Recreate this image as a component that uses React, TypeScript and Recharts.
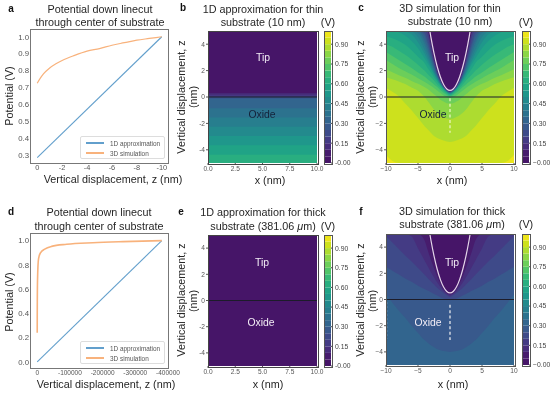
import React from 'react'
import {
  Area,
  Bar,
  BarChart,
  ComposedChart,
  Legend,
  Line,
  LineChart,
  ReferenceArea,
  ReferenceLine,
  XAxis,
  YAxis,
} from 'recharts'

// viridis, one colour per 0.05 V contour band
const bandColors = [
  '#461568', '#471c6d', '#472d7b', '#443b84', '#3e4a89', '#38598c', '#32658e', '#2c728e', '#277e8e', '#238a8d',
  '#1f978b', '#20a386', '#29ae80', '#38b977', '#51c569', '#6cce5a', '#8bd646', '#addc30', '#cde11d', '#ede51b',
]
const bandKeys = bandColors.map((_, i) => `b${i}`)
const colorbarTicks = [0, 0.15, 0.3, 0.45, 0.6, 0.75, 0.9]

// line cuts
const thin1D = [{ x: 0, y: 0.285 }, { x: -10, y: 1.0 }]
const thin3DZ = [0, -0.25, -0.5, -1, -1.5, -2, -3, -4, -5, -6, -7, -8, -9, -10]
const thin3DV = [0.725, 0.755, 0.78, 0.815, 0.84, 0.86, 0.89, 0.915, 0.93, 0.95, 0.965, 0.98, 0.99, 1.0]
const thick1D = [{ x: 0, y: 0 }, { x: -381060, y: 1.0 }]
const thick3DZ = [0, -100, -300, -1000, -4000, -10000, -23000, -44000, -90000, -170000, -263000, -381060]
const thick3DV = [0.24, 0.36, 0.5, 0.68, 0.85, 0.9, 0.93, 0.953, 0.97, 0.983, 0.992, 1.0]

// right half of each contour, the plots are symmetric about x = 0
const halfX = [0, 0.5, 1, 1.5, 2, 2.5, 3, 3.5, 4, 5, 6, 7, 8, 9, 10]
const thinCurves: number[][] = [
  [0.48, 0.58, 0.88, 1.4, 2.15, 3.1, 4.4, 5, 5, 5, 5, 5, 5, 5, 5],
  [0.45, 0.56, 0.85, 1.35, 2.05, 2.95, 4.1, 5, 5, 5, 5, 5, 5, 5, 5],
  [0.42, 0.54, 0.82, 1.3, 1.95, 2.8, 3.85, 4.95, 5, 5, 5, 5, 5, 5, 5],
  [0.4, 0.52, 0.8, 1.25, 1.85, 2.65, 3.6, 4.65, 5, 5, 5, 5, 5, 5, 5],
  [0.38, 0.5, 0.78, 1.2, 1.75, 2.5, 3.35, 4.2, 4.85, 5, 5, 5, 5, 5, 5],
  [0.36, 0.48, 0.75, 1.15, 1.68, 2.35, 3.1, 3.95, 4.65, 5, 5, 5, 5, 5, 5],
  [0.34, 0.46, 0.72, 1.1, 1.6, 2.2, 2.9, 3.65, 4.3, 5, 5, 5, 5, 5, 5],
  [0.32, 0.44, 0.7, 1.05, 1.52, 2.05, 2.7, 3.35, 4, 4.85, 5, 5, 5, 5, 5],
  [0.29, 0.42, 0.68, 1.0, 1.43, 1.92, 2.5, 3.05, 3.6, 4.55, 4.95, 5, 5, 5, 5],
  [0.26, 0.4, 0.66, 0.96, 1.35, 1.8, 2.3, 2.8, 3.3, 4.15, 4.75, 4.95, 5, 5, 5],
  [0.22, 0.37, 0.62, 0.92, 1.28, 1.7, 2.15, 2.55, 2.95, 3.7, 4.25, 4.65, 4.9, 5, 5],
  [0.18, 0.32, 0.55, 0.85, 1.18, 1.5, 1.85, 2.2, 2.6, 3.05, 3.55, 3.95, 4.25, 4.45, 4.6],
  [0.12, 0.25, 0.45, 0.7, 0.95, 1.25, 1.5, 1.75, 2.0, 2.45, 2.85, 3.2, 3.5, 3.8, 4.0],
  [0.05, 0.15, 0.32, 0.52, 0.75, 0.95, 1.15, 1.35, 1.55, 1.85, 2.2, 2.5, 2.8, 3.1, 3.4],
  [-0.1, -0.02, 0.12, 0.3, 0.5, 0.68, 0.85, 1.0, 1.15, 1.42, 1.7, 1.95, 2.2, 2.5, 2.8],
  [-0.5, -0.47, -0.35, -0.2, 0, 0.2, 0.42, 0.6, 0.75, 1.0, 1.22, 1.45, 1.65, 1.88, 2.1],
  [-1.65, -1.62, -1.52, -1.38, -1.2, -0.95, -0.62, -0.3, 0.02, 0.48, 0.72, 0.98, 1.18, 1.35, 1.5],
  [-3.4, -3.38, -3.3, -3.2, -3.1, -2.95, -2.7, -2.45, -2.2, -1.6, -1.0, -0.5, 0.05, 0.4, 0.7],
  [-5, -5, -5, -5, -5, -5, -5, -5, -5, -5, -5, -5, -5, -4.85, -4.4],
]
const thickCurves: number[][] = [
  [0.47, 0.6, 0.92, 1.45, 2.15, 3, 4, 5, 5, 5, 5, 5, 5, 5, 5],
  [0.4, 0.5, 0.78, 1.2, 1.75, 2.4, 3.05, 3.8, 4.55, 5, 5, 5, 5, 5, 5],
  [0.3, 0.42, 0.65, 0.95, 1.3, 1.7, 2.1, 2.55, 3, 3.9, 4.8, 5, 5, 5, 5],
  [0.2, 0.33, 0.5, 0.68, 0.9, 1.15, 1.4, 1.65, 1.9, 2.4, 2.9, 3.35, 3.85, 4.35, 4.85],
  [-0.05, 0.02, 0.08, 0.18, 0.3, 0.42, 0.55, 0.68, 0.8, 1.05, 1.35, 1.6, 1.9, 2.2, 2.5],
  [-4, -3.97, -3.93, -3.87, -3.8, -3.65, -3.5, -3.3, -3.1, -2.55, -2, -1.4, -0.85, -0.25, 0.4],
]
const tipX = [0, 0.5, 1, 1.5, 2, 2.5, 3, 3.15]
const tipZ = [0.5, 0.61, 0.95, 1.52, 2.31, 3.33, 4.58, 5]

// flat bands of the 1D solution: top edge of each band and its colour index
const thinBandTop = [5, 0.28, 0.14, 0, -0.14, -0.85, -1.55, -2.25, -2.96, -3.66, -4.37]
const thinBandIndex = [0, 2, 3, 5, 6, 7, 8, 9, 10, 11, 12]
const thickBandTop = [5]
const thickBandIndex = [0]

const zTicks = [-4, -2, 0, 2, 4]
const wideTicks = [-10, -5, 0, 5, 10]
const narrowTicks = [0, 2.5, 5, 7.5, 10]

const toPoints = (xs: number[], ys: number[]) => xs.map((x, i) => ({ x, y: ys[i] }))
const mirrored = (xs: number[]) => [...xs.slice(1).reverse().map((x) => -x), ...xs]
const mirroredTip = () => toPoints(mirrored(tipX), [...tipZ.slice(1).reverse(), ...tipZ])

function contourRows(curves: number[][]) {
  const xs = mirrored(halfX)
  return xs.map((x) => {
    const idx = halfX.indexOf(Math.abs(x))
    const row: Record<string, number | number[]> = { x }
    curves.forEach((c, i) => {
      row[`c${i}`] = [c[idx], 5]
    })
    return row
  })
}

const PAD_L = 40
const PAD_R = 22
const PAD_T = 4
const PAD_B = 20

const tickGray = '#555'
const titleColor = '#262626'
const sans = '"Liberation Sans", Arial, sans-serif'

type Frame = { l: number; t: number; w: number; h: number }

function Txt({ x, y, size = 10.8, color = titleColor, weight, rotate, children }: any) {
  return (
    <div
      style={{
        position: 'absolute',
        left: x,
        top: y,
        fontSize: size,
        fontWeight: weight,
        color,
        lineHeight: 1,
        whiteSpace: 'nowrap',
        transform: `translate(-50%,-50%)${rotate ? ` rotate(${rotate}deg)` : ''}`,
      }}
    >
      {children}
    </div>
  )
}

function Border({ f, color, width }: { f: Frame; color: string; width: number }) {
  return (
    <div
      style={{
        position: 'absolute',
        left: f.l - width / 2,
        top: f.t - width / 2,
        width: f.w,
        height: f.h,
        border: `${width}px solid ${color}`,
        pointerEvents: 'none',
      }}
    />
  )
}

function Colorbar({ f, minus }: { f: Frame; minus: string }) {
  const row: Record<string, number | string> = { name: 'V' }
  bandKeys.forEach((k) => {
    row[k] = 0.05
  })
  return (
    <div style={{ position: 'absolute', left: f.l, top: f.t - PAD_T }}>
      <BarChart
        width={f.w + 32}
        height={f.h + PAD_T + 4}
        data={[row]}
        margin={{ top: PAD_T, right: 2, bottom: 4, left: 0 }}
        barCategoryGap={0}
      >
        <XAxis dataKey="name" hide />
        <YAxis
          orientation="right"
          width={30}
          type="number"
          domain={[0, 1]}
          ticks={colorbarTicks}
          interval={0}
          axisLine={false}
          tickSize={2}
          tickMargin={2}
          tickLine={{ stroke: '#444' }}
          tick={{ fontSize: 6.8, fill: '#444' }}
          tickFormatter={(v: number) => (v === 0 ? `${minus}0.00` : v.toFixed(2))}
        />
        {bandKeys.map((k, i) => (
          <Bar key={k} dataKey={k} stackId="cb" fill={bandColors[i]} isAnimationActive={false} />
        ))}
      </BarChart>
    </div>
  )
}

function FieldPlot({ f, xDomain, xTicks, minus, children, rows, xDigits }: any) {
  const fmt = (v: number) => {
    const s = xDigits ? v.toFixed(xDigits) : String(Math.abs(v))
    return v < 0 ? `${minus}${s}` : s
  }
  return (
    <div style={{ position: 'absolute', left: f.l - PAD_L, top: f.t - PAD_T }}>
      <ComposedChart
        width={f.w + PAD_L + PAD_R}
        height={f.h + PAD_T + PAD_B}
        data={rows}
        margin={{ top: PAD_T, right: PAD_R, bottom: 0, left: 0 }}
      >
        <XAxis
          dataKey="x"
          type="number"
          domain={xDomain}
          ticks={xTicks}
          interval={0}
          height={PAD_B}
          axisLine={false}
          tickSize={2}
          tickMargin={1}
          tickLine={{ stroke: tickGray }}
          tick={{ fontSize: 6.6, fill: tickGray }}
          tickFormatter={fmt}
        />
        <YAxis
          type="number"
          domain={[-5, 5]}
          ticks={zTicks}
          interval={0}
          allowDataOverflow
          width={PAD_L}
          axisLine={false}
          tickSize={2}
          tickMargin={1}
          tickLine={{ stroke: tickGray }}
          tick={{ fontSize: 6.6, fill: tickGray }}
          tickFormatter={(v: number) => (v < 0 ? `${minus}${Math.abs(v)}` : String(v))}
        />
        {children}
      </ComposedChart>
    </div>
  )
}

function contourMarks(curves: number[][], backIndex: number) {
  const order = curves.map((_, i) => i).reverse()
  return [
    <ReferenceArea key="bg" x1={-10} x2={10} y1={-5} y2={5} fill={bandColors[backIndex]} fillOpacity={1} stroke="none" />,
    ...order.map((i) => (
      <Area
        key={`c${i}`}
        dataKey={`c${i}`}
        type="monotone"
        fill={bandColors[i]}
        fillOpacity={1}
        stroke="none"
        dot={false}
        activeDot={false}
        isAnimationActive={false}
      />
    )),
    <Line
      key="tip"
      data={mirroredTip()}
      dataKey="y"
      type="monotone"
      stroke="#e4d6ea"
      strokeWidth={1.2}
      dot={false}
      activeDot={false}
      isAnimationActive={false}
    />,
    <ReferenceLine key="surface" y={0} stroke="#1c1c2a" strokeWidth={1.1} />,
  ]
}

function bandMarks(tops: number[], index: number[]) {
  // painted top down, each band runs to the bottom and the next one covers it
  return [
    ...tops.map((t, i) => (
      <ReferenceArea
        key={`band${i}`}
        x1={0}
        x2={10}
        y1={-5}
        y2={t}
        fill={bandColors[index[i]]}
        fillOpacity={1}
        stroke="none"
      />
    )),
    <ReferenceLine key="surface" y={0} stroke="#1c1c2a" strokeWidth={1.1} />,
  ]
}

function LineLegend({ payload }: any) {
  return (
    <div
      style={{
        width: 85,
        height: 23,
        boxSizing: 'border-box',
        background: '#fff',
        border: '1px solid #ddd',
        borderRadius: 2,
        padding: '1px 0 0 5px',
      }}
    >
      {(payload || []).map((p: any) => (
        <div key={p.value} style={{ display: 'flex', alignItems: 'center', height: 10 }}>
          <span style={{ width: 18, height: 1.2, background: p.color, marginRight: 6 }} />
          <span style={{ fontSize: 6.4, color: '#555' }}>{p.value}</span>
        </div>
      ))}
    </div>
  )
}

function CutPlot({ f, xDomain, xTicks, yDomain, yTicks, line1D, line3D, xFont, legendTop, orangeWidth }: any) {
  return (
    <div style={{ position: 'absolute', left: f.l - PAD_L, top: f.t - PAD_T }}>
      <LineChart
        width={f.w + PAD_L + PAD_R}
        height={f.h + PAD_T + PAD_B}
        margin={{ top: PAD_T, right: PAD_R, bottom: 0, left: 0 }}
      >
        <XAxis
          dataKey="x"
          type="number"
          domain={xDomain}
          ticks={xTicks}
          interval={0}
          reversed
          allowDuplicatedCategory={false}
          height={PAD_B}
          axisLine={false}
          tickLine={false}
          tickSize={1}
          tickMargin={1}
          tick={{ fontSize: xFont, fill: tickGray }}
        />
        <YAxis
          type="number"
          domain={yDomain}
          ticks={yTicks}
          interval={0}
          width={PAD_L}
          axisLine={false}
          tickLine={false}
          tickSize={1}
          tickMargin={1}
          tick={{ fontSize: 7.8, fill: tickGray }}
          tickFormatter={(v: number) => v.toFixed(1)}
        />
        <Line
          data={line1D}
          dataKey="y"
          name="1D approximation"
          stroke="#629fcc"
          strokeWidth={1.1}
          dot={false}
          isAnimationActive={false}
        />
        <Line
          data={line3D}
          dataKey="y"
          name="3D simulation"
          type="monotone"
          stroke="#f8b27c"
          strokeWidth={orangeWidth}
          dot={false}
          isAnimationActive={false}
        />
        <Legend
          layout="horizontal"
          align="center"
          verticalAlign="middle"
          content={<LineLegend />}
          wrapperStyle={{ position: 'absolute', left: 80 - 31 + PAD_L, top: legendTop, width: 85, height: 23 }}
        />
      </LineChart>
    </div>
  )
}

const frameA = { l: 31, t: 30, w: 137, h: 133 }
const frameB = { l: 208, t: 31, w: 109, h: 132 }
const frameC = { l: 386, t: 31, w: 128, h: 132 }
const frameD = { l: 31, t: 234, w: 137, h: 134 }
const frameE = { l: 208, t: 235, w: 109, h: 131 }
const frameF = { l: 386, t: 234, w: 128, h: 131 }

export default function App() {
  const thinRows = contourRows(thinCurves)
  const thickRows = contourRows(thickCurves)
  const stubRows = [{ x: 0 }, { x: 10 }]
  return (
    <div
      style={{
        position: 'absolute',
        left: 0,
        top: 0,
        width: 555,
        height: 393,
        overflow: 'hidden',
        background: '#fff',
        fontFamily: sans,
        filter: 'blur(0.35px)',
      }}
    >
      {/* a */}
      <CutPlot
        f={frameA}
        xDomain={[-10.5, 0.5]}
        xTicks={[0, -2, -4, -6, -8, -10]}
        yDomain={[0.253, 1.04]}
        yTicks={[0.3, 0.4, 0.5, 0.6, 0.7, 0.8, 0.9, 1.0]}
        line1D={thin1D}
        line3D={toPoints(thin3DZ, thin3DV)}
        xFont={7.4}
        legendTop={136 - 30 + PAD_T}
        orangeWidth={1.2}
      />
      <Border f={frameA} color="#777" width={1.6} />
      <Txt x={11} y={9} size={10} weight={700} color="#111">a</Txt>
      <Txt x={100} y={9}>Potential down linecut</Txt>
      <Txt x={100} y={22}>through center of substrate</Txt>
      <Txt x={9} y={96} rotate={-90}>Potential (V)</Txt>
      <Txt x={113} y={178.5}>Vertical displacement, z (nm)</Txt>

      {/* b */}
      <FieldPlot f={frameB} xDomain={[0, 10]} xTicks={narrowTicks} minus="-" rows={stubRows} xDigits={1}>
        {bandMarks(thinBandTop, thinBandIndex)}
      </FieldPlot>
      <Border f={frameB} color="#444" width={1} />
      <Colorbar f={{ l: 324, t: 31, w: 7, h: 132 }} minus="-" />
      <Border f={{ l: 324, t: 31, w: 7, h: 132 }} color="#555" width={1} />
      <Txt x={183} y={8} size={10} weight={700} color="#111">b</Txt>
      <Txt x={263} y={9}>1D approximation for thin</Txt>
      <Txt x={263} y={22}>substrate (10 nm)</Txt>
      <Txt x={328} y={22}>(V)</Txt>
      <Txt x={181} y={97} rotate={-90}>Vertical displacement, z</Txt>
      <Txt x={193} y={97} rotate={-90}>(nm)</Txt>
      <Txt x={270} y={180}>x (nm)</Txt>
      <Txt x={263} y={58} size={10.4} color="#f2ecf5">Tip</Txt>
      <Txt x={262} y={115} size={10.4} color="#14233a">Oxide</Txt>

      {/* c */}
      <FieldPlot f={frameC} xDomain={[-10, 10]} xTicks={wideTicks} minus={'\u2212'} rows={thinRows}>
        {contourMarks(thinCurves, 19)}
        <ReferenceLine
          segment={[{ x: 0, y: -0.1 }, { x: 0, y: -2.7 }]}
          stroke="#eef6c8"
          strokeWidth={1.2}
          strokeDasharray="3 2.4"
        />
      </FieldPlot>
      <Border f={frameC} color="#555" width={1} />
      <Colorbar f={{ l: 522, t: 31, w: 7, h: 132 }} minus={'\u2212'} />
      <Border f={{ l: 522, t: 31, w: 7, h: 132 }} color="#555" width={1} />
      <Txt x={361} y={8} size={10} weight={700} color="#111">c</Txt>
      <Txt x={450} y={8}>3D simulation for thin</Txt>
      <Txt x={450} y={21}>substrate (10 nm)</Txt>
      <Txt x={526} y={22}>(V)</Txt>
      <Txt x={360} y={97} rotate={-90}>Vertical displacement, z</Txt>
      <Txt x={372} y={97} rotate={-90}>(nm)</Txt>
      <Txt x={452} y={180}>x (nm)</Txt>
      <Txt x={452} y={58} size={10.4} color="#f2ecf5">Tip</Txt>
      <Txt x={433} y={115} size={10.4} color="#14233a">Oxide</Txt>

      {/* d */}
      <CutPlot
        f={frameD}
        xDomain={[-400000, 19000]}
        xTicks={[0, -100000, -200000, -300000, -400000]}
        yDomain={[-0.05, 1.055]}
        yTicks={[0, 0.2, 0.4, 0.6, 0.8, 1.0]}
        line1D={thick1D}
        line3D={toPoints(thick3DZ, thick3DV)}
        xFont={6.5}
        legendTop={341 - 234 + PAD_T}
        orangeWidth={1.6}
      />
      <Border f={frameD} color="#777" width={1.6} />
      <Txt x={11} y={212} size={10} weight={700} color="#111">d</Txt>
      <Txt x={99} y={212}>Potential down linecut</Txt>
      <Txt x={99} y={226}>through center of substrate</Txt>
      <Txt x={9} y={302} rotate={-90}>Potential (V)</Txt>
      <Txt x={106} y={383.5}>Vertical displacement, z (nm)</Txt>

      {/* e */}
      <FieldPlot f={frameE} xDomain={[0, 10]} xTicks={narrowTicks} minus="-" rows={stubRows} xDigits={1}>
        {bandMarks(thickBandTop, thickBandIndex)}
      </FieldPlot>
      <Border f={frameE} color="#444" width={1} />
      <Colorbar f={{ l: 324, t: 235, w: 7, h: 131 }} minus="-" />
      <Border f={{ l: 324, t: 235, w: 7, h: 131 }} color="#555" width={1} />
      <Txt x={181} y={212} size={10} weight={700} color="#111">e</Txt>
      <Txt x={263} y={212}>1D approximation for thick</Txt>
      <Txt x={263} y={226}>substrate (381.06 <i>{'\u03bc'}</i>m)</Txt>
      <Txt x={328} y={226}>(V)</Txt>
      <Txt x={181} y={300} rotate={-90}>Vertical displacement, z</Txt>
      <Txt x={193} y={301} rotate={-90}>(nm)</Txt>
      <Txt x={268} y={384}>x (nm)</Txt>
      <Txt x={262} y={263} size={10.4} color="#f2ecf5">Tip</Txt>
      <Txt x={261} y={323} size={10.4} color="#f2ecf5">Oxide</Txt>

      {/* f */}
      <FieldPlot f={frameF} xDomain={[-10, 10]} xTicks={wideTicks} minus={'\u2212'} rows={thickRows}>
        {contourMarks(thickCurves, 6)}
        <ReferenceLine
          segment={[{ x: 0, y: -0.4 }, { x: 0, y: -3.1 }]}
          stroke="#f4f4f4"
          strokeWidth={1.2}
          strokeDasharray="3 2.4"
        />
        <ReferenceLine
          segment={[{ x: -9.9, y: -0.2 }, { x: -9.9, y: -3 }]}
          stroke="#e8eef2"
          strokeWidth={1}
          strokeDasharray="2 2"
        />
      </FieldPlot>
      <Border f={frameF} color="#555" width={1} />
      <Colorbar f={{ l: 522, t: 234, w: 7, h: 131 }} minus={'\u2212'} />
      <Border f={{ l: 522, t: 234, w: 7, h: 131 }} color="#555" width={1} />
      <Txt x={361} y={212} size={10} weight={700} color="#111">f</Txt>
      <Txt x={452} y={211}>3D simulation for thick</Txt>
      <Txt x={452} y={224}>substrate (381.06 <i>{'\u03bc'}</i>m)</Txt>
      <Txt x={526} y={224}>(V)</Txt>
      <Txt x={360} y={300} rotate={-90}>Vertical displacement, z</Txt>
      <Txt x={372} y={301} rotate={-90}>(nm)</Txt>
      <Txt x={453} y={384}>x (nm)</Txt>
      <Txt x={452} y={263} size={10.4} color="#f2ecf5">Tip</Txt>
      <Txt x={428} y={323} size={10.4} color="#f2ecf5">Oxide</Txt>
    </div>
  )
}
